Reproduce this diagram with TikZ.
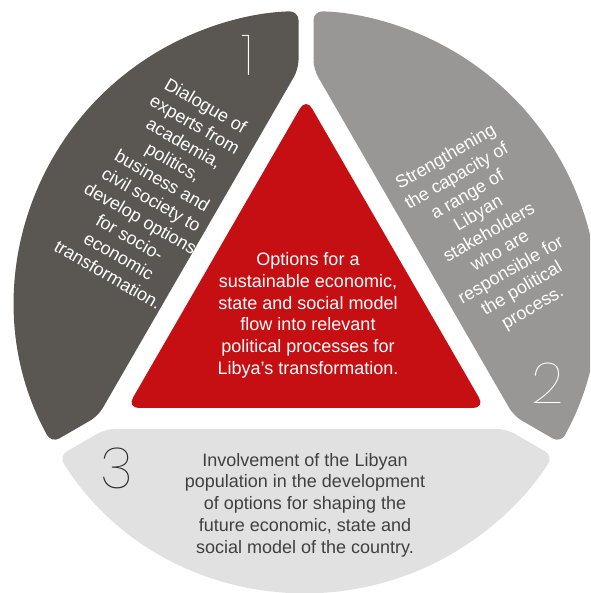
\documentclass[tikz,border=0pt]{standalone}
\usepackage{fontspec}
\setmainfont{Liberation Sans}
\newfontfamily\digitfont{Poppins Thin}
\begin{document}
\begin{tikzpicture}[x=1pt,y=1pt]
  \definecolor{segdark}{HTML}{5A5651}
  \definecolor{seggray}{HTML}{989796}
  \definecolor{seglight}{HTML}{E1E1E1}
  \definecolor{segred}{HTML}{C50F12}
  \definecolor{textgray}{HTML}{404040}
  \tikzset{
    segment/.style={rounded corners=9pt},
    seglabel/.style={font=\fontsize{18}{21.7}\selectfont, align=center,
                     text=white, inner sep=0pt},
    digit/.style={font=\digitfont\fontsize{57}{57}\selectfont, inner sep=0pt},
  }
  \useasboundingbox (0,0) rectangle (590,593);
  \begin{scope}
    \clip (0,0) rectangle (590,593);
    % upper-left sector
    \fill[segdark, segment] (298.5,550) -- (298.5,524.0) -- (98.15,177.0)
      -- (51.42,150.03) arc[start angle=208.97, end angle=91.48, radius=291] -- cycle;
    % right sector
    \fill[seggray, segment] (313.5,550) -- (313.5,524.0) -- (513.85,177.0)
      -- (560.58,150.03) arc[start angle=-28.97, end angle=88.52, radius=291] -- cycle;
    % bottom sector
    \fill[seglight, segment] (306,164) -- (105.64,164)
      -- (59.03,137.09) arc[start angle=211.93, end angle=328.07, radius=291]
      -- (506.36,164) -- cycle;
    % central triangle
    \fill[segred, rounded corners=12pt] (306,185) -- (485,185) -- (306,495)
      -- (127,185) -- cycle;
  \end{scope}

  \node[seglabel, rotate=-30] (dialogue) at (157,403)
    {Dialogue of\\experts from\\academia,\\politics,\\business and\\civil society to\\develop options\\for socio-\\economic\\transformation.};
  \node[seglabel, rotate=30] (capacity) at (489.5,360)
    {Strengthening\\the capacity of\\a range of\\Libyan\\stakeholders\\who are\\responsible for\\the political\\process.};
  \node[seglabel] (options) at (308,277.5)
    {Options for a\\sustainable economic,\\state and social model\\flow into relevant\\political processes for\\Libya’s transformation.};
  \node[seglabel, text=textgray] (involvement) at (305,88)
    {Involvement of the Libyan\\population in the development\\of options for shaping the\\future economic, state and\\social model of the country.};

  \node[digit, text=white] (one) at (248,538) {1};
  \node[digit, text=white] (two) at (548,210) {2};
  \node[digit, text=black!85] (three) at (117,125) {3};
\end{tikzpicture}
\end{document}
